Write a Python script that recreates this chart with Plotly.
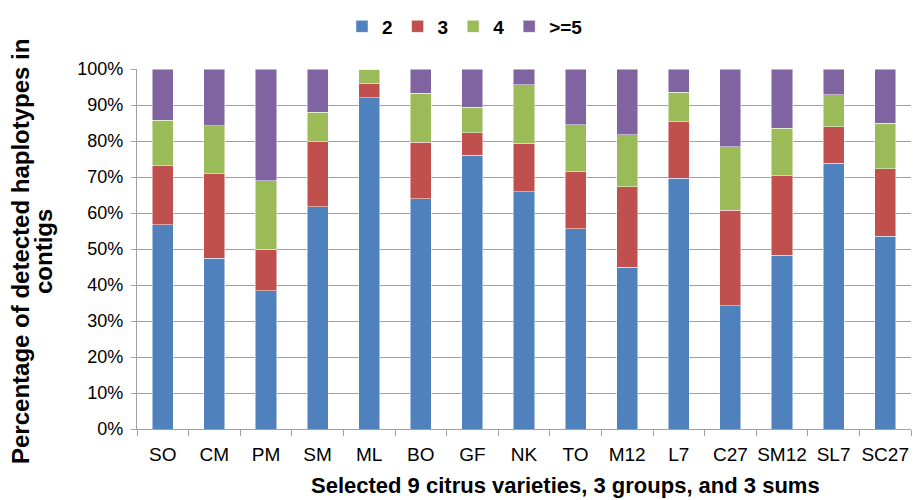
import plotly.graph_objects as go

# Citrus varieties, groups and sums along the x axis
categories = ["SO", "CM", "PM", "SM", "ML", "BO", "GF", "NK", "TO",
              "M12", "L7", "C27", "SM12", "SL7", "SC27"]

# Share (%) of contigs by number of detected haplotypes
hap_2 = [56.7, 47.4, 38.4, 61.8, 92.0, 64.0, 76.0, 65.9, 55.6,
         44.9, 69.6, 34.3, 48.3, 73.8, 53.5]
hap_3 = [16.4, 23.5, 11.6, 18.0, 3.9, 15.7, 6.3, 13.5, 15.9,
         22.4, 15.8, 26.5, 22.0, 10.2, 18.8]
hap_4 = [12.6, 13.3, 19.0, 8.2, 4.1, 13.6, 7.1, 16.2, 13.0,
         14.5, 8.2, 17.6, 13.3, 8.8, 12.7]
hap_5plus = [14.3, 15.8, 31.0, 12.0, 0.0, 6.7, 10.6, 4.4, 15.5,
             18.2, 6.4, 21.6, 16.4, 7.2, 15.0]

series_names = ["2", "3", "4", ">=5"]
series_values = [hap_2, hap_3, hap_4, hap_5plus]
series_colors = ["#4F81BD", "#C0504D", "#9BBB59", "#8064A2"]
y_ticks = list(range(0, 101, 10))

x_title = "Selected 9 citrus varieties, 3 groups, and 3 sums"
y_title_lines = ["Percentage of detected haplotypes in", "contigs"]

FONT = "Liberation Sans, Arial, sans-serif"
GRID = "#A0A0A0"

# Plot area in pixels
L, R, T, B = 137, 8, 69, 71
W, H = 919, 500
PW, PH = W - L - R, H - T - B

fig = go.Figure()
for name, vals, col in zip(series_names, series_values, series_colors):
    fig.add_trace(go.Bar(
        x=categories, y=vals, name=name,
        marker=dict(color=col, line=dict(color="rgba(255,255,255,0.6)", width=0.8)),
    ))

fig.update_layout(
    barmode="stack",
    bargap=0.59,
    width=W, height=H,
    margin=dict(l=L, r=R, t=T, b=B),
    plot_bgcolor="white", paper_bgcolor="white",
    font=dict(family=FONT, color="black", size=16),
    legend=dict(
        orientation="h", x=(465 - L) / PW, xanchor="center",
        y=0.985, yref="container", yanchor="top",
        font=dict(size=19, family=FONT, weight="bold"),
        traceorder="normal", bgcolor="rgba(0,0,0,0)",
    ),
    showlegend=True,
)

fig.update_xaxes(
    type="category", tickson="boundaries", tickangle=0,
    ticks="outside", ticklen=6, tickcolor=GRID, tickwidth=1.3,
    showline=True, linecolor=GRID, linewidth=1.3,
    showgrid=False, tickfont=dict(size=19, family=FONT),
    ticklabelstandoff=8,
)
fig.update_yaxes(
    range=[0, 100], tickvals=y_ticks, ticktext=[f"{v}%" for v in y_ticks],
    ticks="outside", ticklen=5, tickcolor=GRID, tickwidth=1.3,
    showline=True, linecolor=GRID, linewidth=1.3,
    showgrid=True, gridcolor=GRID, gridwidth=1.3,
    tickfont=dict(size=18, family=FONT), zeroline=False,
    ticklabelstandoff=4,
)

# Axis titles
fig.add_annotation(
    text=x_title,
    xref="paper", yref="paper", x=(565 - L) / PW, y=-(486 - (T + PH)) / PH,
    xanchor="center", yanchor="middle", showarrow=False,
    font=dict(size=22, family=FONT, weight="bold"),
)
for line, xc in zip(y_title_lines, [20, 43]):
    fig.add_annotation(
        text=line,
        xref="paper", yref="paper", x=(xc - L) / PW, y=((T + PH) - 252) / PH,
        xanchor="center", yanchor="middle", showarrow=False, textangle=-90,
        font=dict(size=24, family=FONT, weight="bold"),
    )

fig.write_html("out.html")
